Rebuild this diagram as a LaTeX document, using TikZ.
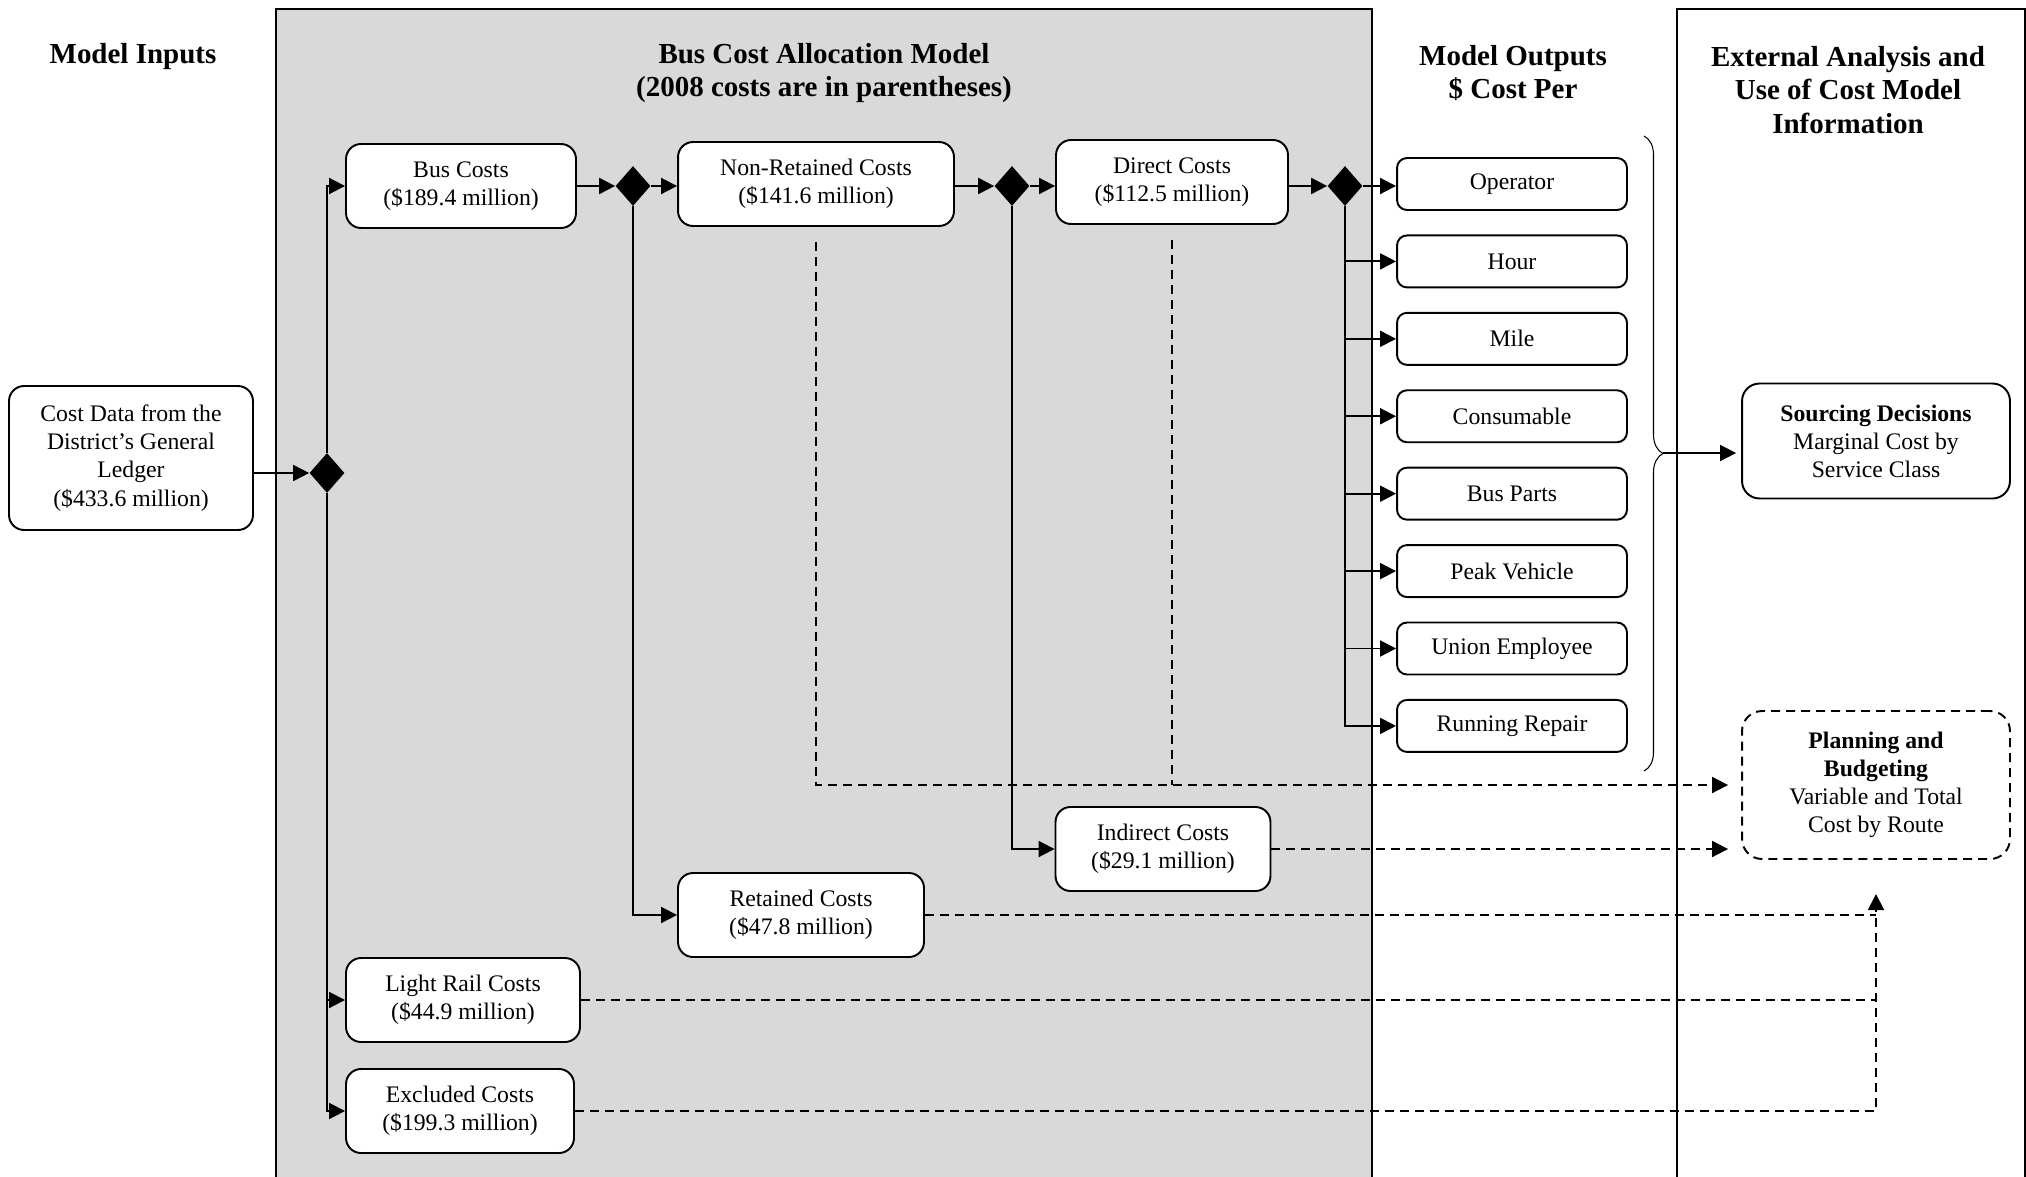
\documentclass[tikz,border=0pt]{standalone}
\usepackage{fontspec}
\setmainfont{Liberation Serif}
\usetikzlibrary{positioning,shapes.geometric,arrows.meta,decorations.pathreplacing}

\begin{document}
\begin{tikzpicture}[x=0.02cm, y=-0.02cm, >={Triangle[length=0.32cm, width=0.32cm]},
  costbox/.style={draw, line width=1.1pt, rounded corners=0.3cm, fill=white, align=center, minimum height=1.68cm, inner sep=1pt, font=\fontsize{13.5}{16}\selectfont},
  outbox/.style={costbox, rounded corners=0.2cm, minimum width=4.6cm, minimum height=1.04cm},
  junction/.style={diamond, fill=black, inner sep=0pt, minimum width=0.7cm, minimum height=0.8cm},
  header/.style={align=center, font=\fontsize{16.5}{19}\selectfont\bfseries},
  flow/.style={->, line width=1.1pt},
  feed/.style={line width=1.1pt, dash pattern=on 0.18cm off 0.12cm}]
\useasboundingbox (0,0) rectangle (2026,1177);

\fill[black!15] (276,9) rectangle (1372,1177);
\draw[line width=1pt] (276,1177) -- (276,9) -- (1372,9) -- (1372,1177);
\draw[line width=1.1pt] (1677,1177) -- (1677,9) -- (2025,9) -- (2025,1177);

\node[header] (inputs) at (133,57) {Model Inputs};
\node[header] (model) at (824,73) {Bus Cost Allocation Model\\(2008 costs are in parentheses)};
\node[header] (outputs) at (1513,73) {Model Outputs\\\$ Cost Per};
\node[header] (external) at (1848,90) {External Analysis and\\Use of Cost Model\\Information};

\node[costbox, minimum width=4.88cm, minimum height=2.88cm] (ledger) at (131,458) {Cost Data from the\\District’s General\\Ledger\\(\$433.6 million)};
\node[junction] (split) at (327,473) {};
\node[costbox, minimum width=4.6cm] (bus) at (461,186) {Bus Costs\\(\$189.4 million)};
\node[junction] (bussplit) at (633,186) {};
\node[costbox, minimum width=5.52cm] (nonret) at (816,184) {Non-Retained Costs\\(\$141.6 million)};
\node[junction] (nonretsplit) at (1012,186) {};
\node[costbox, minimum width=4.64cm] (direct) at (1172,182) {Direct Costs\\(\$112.5 million)};
\node[junction] (directsplit) at (1345,186) {};
\node[costbox, minimum width=4.3cm] (indirect) at (1163,849) {Indirect Costs\\(\$29.1 million)};
\node[costbox, minimum width=4.92cm] (retained) at (801,915) {Retained Costs\\(\$47.8 million)};
\node[costbox, minimum width=4.68cm] (light) at (463,1000) {Light Rail Costs\\(\$44.9 million)};
\node[costbox, minimum width=4.56cm] (excluded) at (460,1111) {Excluded Costs\\(\$199.3 million)};

\node[outbox] (operator) at (1512,184) {Operator};
\node[outbox, below=0.47cm of operator] (hour) {Hour};
\node[outbox, below=0.47cm of hour] (mile) {Mile};
\node[outbox, below=0.47cm of mile] (consumable) {Consumable};
\node[outbox, below=0.47cm of consumable] (parts) {Bus Parts};
\node[outbox, below=0.47cm of parts] (peak) {Peak Vehicle};
\node[outbox, below=0.47cm of peak] (union) {Union Employee};
\node[outbox, below=0.47cm of union] (repair) {Running Repair};

\node[costbox, rounded corners=0.35cm, minimum width=5.36cm, minimum height=2.3cm] (sourcing) at (1876,441) {\textbf{Sourcing Decisions}\\Marginal Cost by\\Service Class};
\node[costbox, dash pattern=on 0.18cm off 0.12cm, rounded corners=0.4cm, minimum width=5.36cm, minimum height=2.96cm] (planning) at (1876,785) {\textbf{Planning and}\\\textbf{Budgeting}\\Variable and Total\\Cost by Route};

\coordinate (bracetop) at (1644,136);
\coordinate (bracebot) at (1644,771);
\coordinate (bracetip) at (1663,453);
\coordinate (plantip) at (1876,894);

\draw[flow] (ledger.east |- split) -- (split);
\draw[flow] (split.north) |- (bus);
\draw[flow] (split.south) |- (light);
\draw[flow] (split.south) |- (excluded);
\draw[flow] (bus) -- (bussplit);
\draw[flow] (bussplit) -- (bussplit -| nonret.west);
\draw[flow] (bussplit.south) |- (retained);
\draw[flow] (nonret.east |- nonretsplit) -- (nonretsplit);
\draw[flow] (nonretsplit) -- (nonretsplit -| direct.west);
\draw[flow] (nonretsplit.south) |- (indirect);
\draw[flow] (direct.east |- directsplit) -- (directsplit);
\draw[flow] (directsplit) -- (directsplit -| operator.west);
\draw[flow] (directsplit.south) |- (hour);
\draw[flow] (directsplit.south) |- (mile);
\draw[flow] (directsplit.south) |- (consumable);
\draw[flow] (directsplit.south) |- (parts);
\draw[flow] (directsplit.south) |- (peak);
\draw[flow] (directsplit.south) |- (union);
\draw[flow] (directsplit.south) |- (repair);

\draw[line width=0.6pt, decorate, decoration={brace, amplitude=0.38cm}] (bracetop) -- (bracebot);
\draw[flow, shorten >=0.1cm] (bracetip) -- (bracetip -| sourcing.west);

\draw[feed, ->, shorten <=0.3cm, shorten >=0.26cm] (nonret.south) |- (planning.west);
\draw[feed, shorten <=0.3cm] (direct.south) -- (direct.south |- planning.west);
\draw[feed, ->, shorten >=0.26cm] (indirect.east) -- (indirect.east -| planning.west);
\draw[feed] (retained.east) -- (retained.east -| plantip);
\draw[feed] (light.east) -- (light.east -| plantip);
\draw[feed, ->] (excluded.east) -| (plantip);
\end{tikzpicture}
\end{document}
